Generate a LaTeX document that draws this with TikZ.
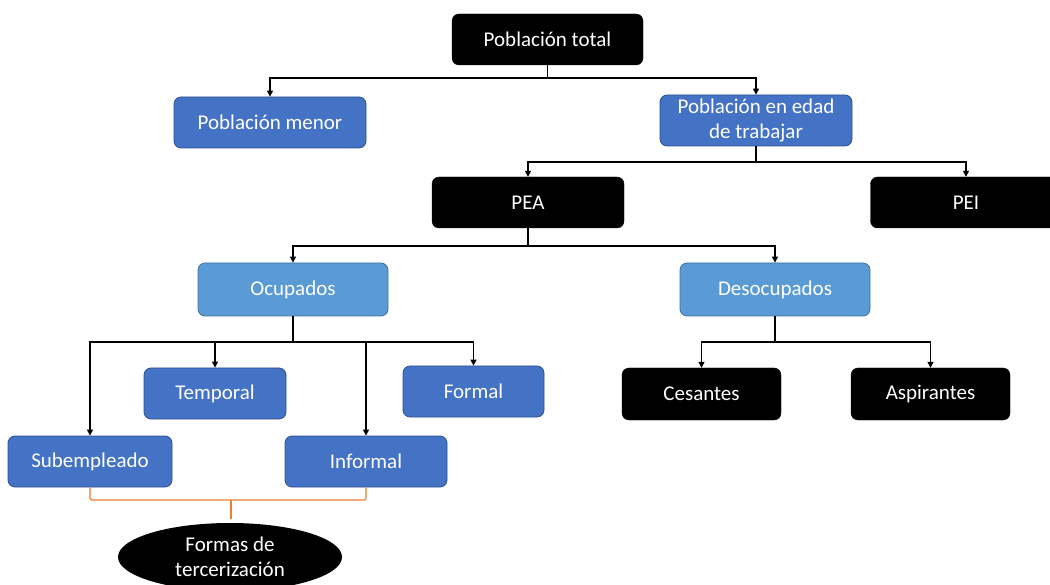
\documentclass[tikz,border=0pt]{standalone}
\usepackage{fontspec}
\setmainfont{Carlito}
\usetikzlibrary{arrows.meta,shapes.geometric}
\definecolor{dblue}{HTML}{4472C4}
\definecolor{dblueline}{HTML}{2F528F}
\definecolor{lblue}{HTML}{5B9BD5}
\definecolor{lblueline}{HTML}{41719C}
\definecolor{braceor}{HTML}{ED7D31}
\begin{document}
\begin{tikzpicture}[x=1pt,y=-1pt,
  base/.style={rectangle, rounded corners=7pt, inner sep=0pt, align=center,
    font=\fontsize{21}{25}\selectfont, text=white, minimum height=51pt},
  blk/.style={base, fill=black, draw=black},
  dbl/.style={base, fill=dblue, draw=dblueline, line width=0.8pt},
  lbl/.style={base, fill=lblue, draw=lblueline, line width=0.8pt},
  conn/.style={draw=black, line width=1.2pt, -{Triangle[length=6pt,width=6pt]}},
  trunk/.style={draw=black, line width=1.2pt},
  bracel/.style={draw=braceor, line width=1.2pt, rounded corners=2pt}]
\useasboundingbox (0,0) rectangle (1050,585);

% nodes
\node[blk, minimum width=191pt] (tot) at (547.5,39.5) {Población total};
\node[dbl, minimum width=192pt] (men) at (270,122.5) {Población menor};
\node[dbl, minimum width=192pt] (pet) at (756,120.5) {Población en edad\\de trabajar};
\node[blk, minimum width=192pt] (pea) at (528,202.5) {PEA};
\node[blk, minimum width=191pt] (pei) at (966,202.5) {PEI};
\node[lbl, minimum width=190pt, minimum height=53pt] (ocu) at (293,289.5) {Ocupados};
\node[lbl, minimum width=190pt, minimum height=53pt] (des) at (775,289.5) {Desocupados};
\node[dbl, minimum width=142pt] (tem) at (215,393.5) {Temporal};
\node[dbl, minimum width=141pt] (for) at (473.5,391.5) {Formal};
\node[dbl, minimum width=164pt] (sub) at (90,461.5) {Subempleado};
\node[dbl, minimum width=162pt] (inf) at (366,461.5) {Informal};
\node[blk, minimum width=159pt, minimum height=52pt] (ces) at (701.5,394) {Cesantes};
\node[blk, minimum width=159pt, minimum height=52pt] (asp) at (930.5,394) {Aspirantes};
\node[ellipse, fill=black, text=white, inner sep=0pt, align=center,
  minimum width=224pt, minimum height=68pt,
  font=\fontsize{21}{25}\selectfont] (ter) at (230,557) {Formas de\\tercerización};

% junction points
\coordinate (j1) at (547.5,78);
\coordinate (j2) at (756,162);
\coordinate (j3) at (528,246);
\coordinate (j4) at (293,342);
\coordinate (j5) at (775,342);

% connectors
\draw[trunk] (tot.south) -- (j1);
\draw[conn] (j1) -| (men.north);
\draw[conn] (j1) -| (pet.north);

\draw[trunk] (pet.south) -- (j2);
\draw[conn] (j2) -| (pea.north);
\draw[conn] (j2) -| (pei.north);

\draw[trunk] (pea.south) -- (j3);
\draw[conn] (j3) -| (ocu.north);
\draw[conn] (j3) -| (des.north);

\draw[trunk, line width=2.2pt] (ocu.south) -- (j4);
\draw[conn] (j4) -| (sub.north);
\draw[conn] (j4) -| (tem.north);
\draw[conn] (j4) -| (inf.north);
\draw[conn] (j4) -| (for.north);

\draw[trunk, line width=2.2pt] (des.south) -- (j5);
\draw[conn] (j5) -| (ces.north);
\draw[conn] (j5) -| (asp.north);

% brace
\coordinate (bm) at (231,500);
\coordinate (bt) at (231,519);
\draw[bracel] (sub.south) -- (sub.south |- bm) -- (inf.south |- bm) -- (inf.south);
\draw[bracel] (bm) -- (bt);
\end{tikzpicture}
\end{document}
